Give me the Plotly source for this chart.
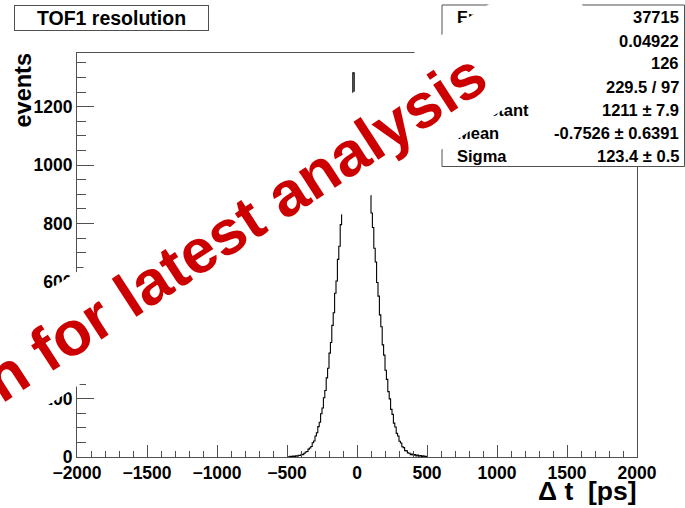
import numpy as np
import plotly.graph_objects as go

# ---------------- data ----------------
bin_low = -500          # left edge of first listed bin (ps)
bin_width = 10          # ps
counts = [
    1, 0, 2, 1, 3, 2, 4, 3, 6, 5,
    9, 8, 13, 17, 19, 27, 31, 36, 49, 55,
    72, 83, 104, 119, 148, 168, 203, 228, 271, 304,
    356, 392, 451, 494, 561, 603, 677, 722, 796, 841,
    912, 948, 1018, 1049, 1106, 1128, 1172, 1316, 1250, 1214,
    1198, 1207, 1179, 1168, 1124, 1101, 1046, 1009, 942, 897,
    836, 786, 715, 668, 598, 551, 487, 446, 384, 349,
    297, 266, 224, 199, 163, 146, 116, 103, 81, 72,
    54, 48, 35, 32, 22, 21, 14, 13, 8, 10,
    6, 8, 4, 7, 3, 5, 2, 4, 1, 2,
]

x_ticks = [-2000, -1500, -1000, -500, 0, 500, 1000, 1500, 2000]
y_ticks = [0, 200, 400, 600, 800, 1000, 1200]

title_text = "TOF1 resolution"
x_title = "\u0394 t\u00a0\u00a0[ps]"
y_title = "events"
watermark = "n for latest analysis"

stat_labels = ["Entries", "Mean", "RMS", "\u03c7\u00b2 / ndf", "Constant", "Mean", "Sigma"]
stat_values = ["37715", "0.04922", "126", "229.5 / 97",
               "1211 \u00b1 7.9", "-0.7526 \u00b1 0.6391", "123.4 \u00b1 0.5"]

# ---------------- geometry helpers ----------------
W, H = 685, 508
L, R, T, B = 77, 637, 53, 457          # plot area in pixels
def px(xp):
    return (xp - L) / (R - L)
def py(yp):
    return (B - yp) / (B - T)

FONT = "Liberation Sans, Arial, Helvetica, sans-serif"
LINE = "#505050"

edges = bin_low + bin_width * np.arange(len(counts) + 1)
ys = list(counts) + [counts[-1]]

fig = go.Figure()
fig.add_trace(go.Scatter(
    x=edges, y=ys, mode="lines", line_shape="hv",
    line=dict(color="black", width=1.1), hoverinfo="skip", showlegend=False,
))

shapes = [
    # stats box
    dict(type="rect", xref="paper", yref="paper",
         x0=px(442), x1=px(684.5), y0=py(166.5), y1=py(5),
         fillcolor="white", line=dict(color=LINE, width=1), layer="above"),
]

ann = []
# title box
ann.append(dict(text=title_text, xref="paper", yref="paper",
                x=px(111.5), y=py(18), xanchor="center", yanchor="middle",
                showarrow=False, width=193, height=24, borderpad=0,
                bordercolor=LINE, borderwidth=1, bgcolor="white",
                font=dict(family=FONT, size=19.5, color="black", weight="bold")))
# axis titles
ann.append(dict(text=y_title, xref="paper", yref="paper",
                x=px(22.5), y=py(52), xanchor="center", yanchor="top",
                textangle=-90, showarrow=False,
                font=dict(family=FONT, size=23.5, color="black", weight="bold")))
ann.append(dict(text=x_title, xref="paper", yref="paper",
                x=px(639), y=py(491), xanchor="right", yanchor="middle",
                showarrow=False,
                font=dict(family=FONT, size=26.5, color="black", weight="bold")))
# stats rows
row_y = [17.3, 41, 63.3, 86.7, 110, 133.3, 155.5]
for lab, val, yy in zip(stat_labels, stat_values, row_y):
    ann.append(dict(text=lab, xref="paper", yref="paper", x=px(455), y=py(yy),
                    xanchor="left", yanchor="middle", showarrow=False,
                    font=dict(family=FONT, size=16.5, color="black", weight="bold")))
    ann.append(dict(text=val, xref="paper", yref="paper", x=px(681), y=py(yy),
                    xanchor="right", yanchor="middle", showarrow=False,
                    font=dict(family=FONT, size=16.5, color="black", weight="bold")))
# watermark (drawn last, on top)
ann.append(dict(text=watermark, xref="paper", yref="paper",
                x=px(234), y=py(227), xanchor="center", yanchor="middle",
                textangle=-33.0, showarrow=False, width=825, height=96,
                borderpad=0, borderwidth=0, bgcolor="white", align="center",
                font=dict(family=FONT, size=62.5, color="#cc0000", weight="bold")))

fig.update_layout(
    width=W, height=H,
    margin=dict(l=L, r=W - R, t=T, b=H - B, pad=0),
    paper_bgcolor="white", plot_bgcolor="white",
    shapes=shapes, annotations=ann, showlegend=False,
    xaxis=dict(range=[-2000, 2000], tickvals=x_ticks, ticks="inside", ticklen=12,
               tickwidth=1, tickcolor=LINE, showline=True, linecolor=LINE, linewidth=1,
               mirror=True, showgrid=False, zeroline=False,
               tickfont=dict(family=FONT, size=17.5, color="black", weight="bold"),
               minor=dict(ticks="inside", ticklen=6, dtick=100, tickcolor=LINE,
                          tickwidth=1, showgrid=False)),
    yaxis=dict(range=[0, 1384], tickvals=y_ticks, ticks="inside", ticklen=17,
               tickwidth=1, tickcolor=LINE, showline=True, linecolor=LINE, linewidth=1,
               mirror=True, showgrid=False, zeroline=False,
               tickfont=dict(family=FONT, size=17.5, color="black", weight="bold"),
               minor=dict(ticks="inside", ticklen=8.5, dtick=50, tickcolor=LINE,
                          tickwidth=1, showgrid=False)),
)

fig.write_html("out.html", config={"displayModeBar": False},
               post_script="document.body.style.margin='0';document.body.style.overflow='hidden';")
